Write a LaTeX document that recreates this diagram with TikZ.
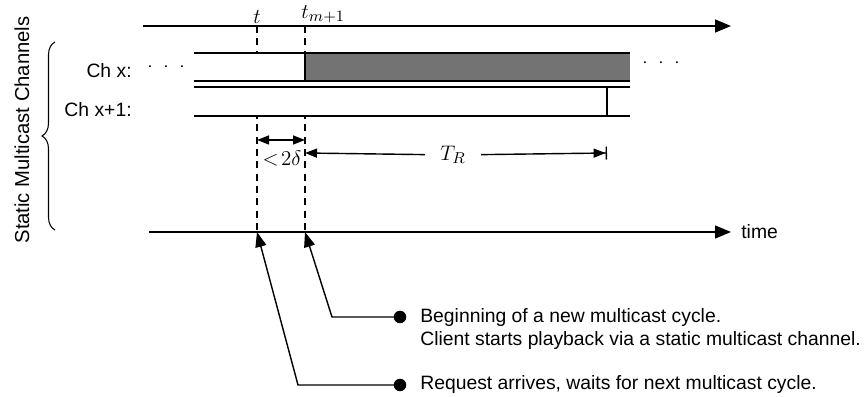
\documentclass[tikz,border=0pt]{standalone}
\usepackage{fontspec}
\setmainfont{Liberation Sans}
\usetikzlibrary{arrows.meta,positioning,decorations.pathreplacing}

\begin{document}
\begin{tikzpicture}[
  every node/.style={font=\fontsize{11}{13.6}\selectfont},
  mathLabel/.style={font=\fontsize{13}{15}\selectfont},
  axisLine/.style={line width=0.9pt, -{Triangle[length=0.32cm, width=0.26cm]}},
  chanLine/.style={line width=1pt},
  cycleMark/.style={line width=0.8pt, dash pattern=on 4pt off 3pt},
  dimTip/.style={line width=0.8pt},
  callout/.style={line width=0.8pt, -{Triangle[length=0.3cm, width=0.22cm]}},
  dot/.style={circle, fill=black, minimum size=0.25cm, inner sep=0pt},
  chanLabel/.style={anchor=east, inner sep=0pt},
  noteText/.style={anchor=west, align=left, inner sep=0pt}
]
\useasboundingbox (0,0) rectangle (17.34,7.94);

% time axes
\coordinate (topL) at (2.86,7.42);
\coordinate (topR) at (14.62,7.42);
\coordinate (botL) at (2.98,3.30);
\node[anchor=west, inner sep=0pt] (time) at (14.82,3.30) {time};

% request and cycle start
\coordinate (reqTop) at (5.14,7.42);
\coordinate (reqBot) at (5.14,3.30);
\coordinate (cycTop) at (6.10,7.42);
\coordinate (cycBot) at (6.10,3.30);

\draw[cycleMark] (reqTop) -- (reqBot);
\draw[cycleMark] (cycTop) -- (cycBot);

\draw[axisLine] (topL) -- (topR);
\draw[axisLine, shorten >=0.2cm] (botL) -- (time.west);

\node[mathLabel, anchor=south, inner sep=1.5pt] (tReq) at (reqTop) {$t$};
\node[mathLabel, anchor=south west, inner sep=1.5pt, xshift=-0.13cm] (tCyc) at (cycTop) {$t_{m+1}$};

% channels
\fill[white] (3.88,6.32) rectangle (12.6,6.88);
\fill[black!55] (6.10,6.32) rectangle (12.6,6.88);
\draw[chanLine] (3.88,6.88) -- (12.6,6.88);
\draw[chanLine] (3.88,6.32) -- (12.6,6.32);
\draw[chanLine] (6.10,6.32) -- (6.10,6.88);
\fill[white] (3.88,5.62) rectangle (12.6,6.20);
\draw[chanLine] (3.88,6.20) -- (12.6,6.20);
\draw[chanLine] (3.88,5.62) -- (12.6,5.62);
\draw[chanLine] (12.14,5.62) -- (12.14,6.20);

\node[chanLabel] (chX) at (2.64,6.52) {Ch x:};
\node[chanLabel] (chX1) at (2.64,5.74) {Ch x+1:};
\node (dotsL) at (3.32,6.60) {$\cdot\,\,\cdot\,\,\cdot$};
\node (dotsR) at (13.22,6.68) {$\cdot\,\,\cdot\,\,\cdot$};

% brace
\draw[decorate, decoration={brace, amplitude=0.26cm}, line width=0.6pt]
  (1.1,3.34) -- (1.1,7.1);
\node[rotate=90] (static) at (0.44,5.34) {\fontsize{11.5}{13}\selectfont Static Multicast Channels};

% intervals
\coordinate (waitL) at (5.14,5.14);
\coordinate (waitR) at (6.10,5.14);
\draw[dimTip, {Triangle[length=0.24cm, width=0.18cm]}-{Triangle[length=0.24cm, width=0.18cm]}]
  (waitL) -- (waitR);
\node[mathLabel, inner sep=0pt] (waitLbl) at (5.64,4.78) {$<\!2\delta$};

\coordinate (cycleL) at (6.10,4.88);
\coordinate (cycleR) at (12.14,4.88);
\node[mathLabel, fill=white, inner xsep=0.3cm] (cycleLbl) at (9.06,4.84) {$T_R$};
\draw[dimTip, -{Triangle[length=0.24cm, width=0.18cm]}] (cycleLbl) -- (cycleL);
\draw[dimTip, -{Triangle[length=0.24cm, width=0.18cm]Bar[width=0.26cm]}] (cycleLbl) -- (cycleR);

% callouts
\node[dot] (cycDot) at (8.0,1.6) {};
\coordinate (cycBend) at (6.64,1.6);
\draw[callout] (cycDot.center) -- (cycBend) -- (cycBot);
\node[noteText] (cycNote) at (8.4,1.36)
  {Beginning of a new multicast cycle.\\Client starts playback via a static multicast channel.};

\node[dot] (reqDot) at (8.0,0.24) {};
\coordinate (reqBend) at (5.96,0.24);
\draw[callout] (reqDot.center) -- (reqBend) -- (reqBot);
\node[noteText] (reqNote) at (8.4,0.24)
  {Request arrives, waits for next multicast cycle.};
\end{tikzpicture}
\end{document}
